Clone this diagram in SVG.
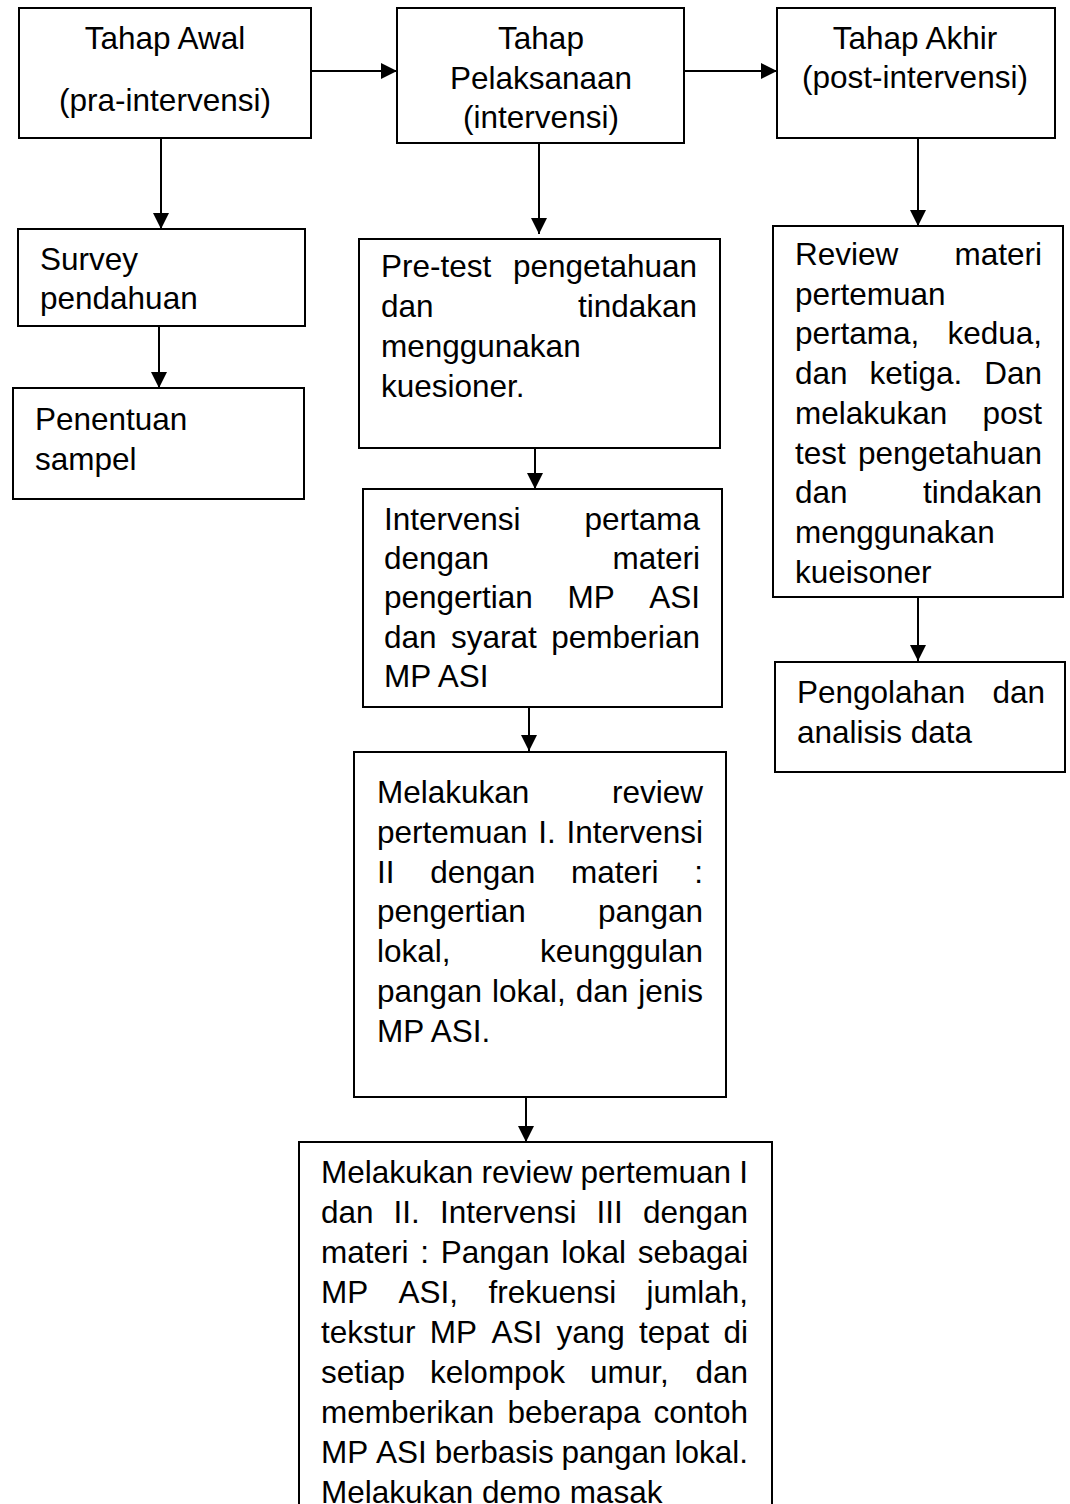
<svg xmlns="http://www.w3.org/2000/svg" width="1070" height="1504" viewBox="0 0 1070 1504">
<style>
.box{fill:#fff;stroke:#000;stroke-width:2}
.t{font-family:"Liberation Sans",Arial,sans-serif;font-size:31.5px;fill:#000}
.c{text-anchor:middle}
.e{text-anchor:end}
.ln{stroke:#000;stroke-width:2;fill:none;marker-end:url(#ah)}
</style>
<defs>
<marker id="ah" markerUnits="userSpaceOnUse" markerWidth="18" markerHeight="18" refX="16" refY="8" orient="auto">
<path d="M0,0 L16,8 L0,16 Z" fill="#000"/>
</marker>
</defs>
<rect width="1070" height="1504" fill="#fff"/>
<g id="connectors">
<line class="ln" x1="311" y1="71" x2="397" y2="71"/>
<line class="ln" x1="684" y1="71" x2="777" y2="71"/>
<line class="ln" x1="161" y1="138" x2="161" y2="229"/>
<line class="ln" x1="159" y1="326" x2="159" y2="388"/>
<line class="ln" x1="539" y1="143" x2="539" y2="234"/>
<line class="ln" x1="535" y1="448" x2="535" y2="489"/>
<line class="ln" x1="529" y1="707" x2="529" y2="751"/>
<line class="ln" x1="526" y1="1097" x2="526" y2="1142"/>
<line class="ln" x1="918" y1="138" x2="918" y2="226"/>
<line class="ln" x1="918" y1="597" x2="918" y2="661"/>
</g>
<g id="tahap-awal">
<rect class="box" x="19" y="8" width="292" height="130"/>
<text class="t c" x="165" y="49">Tahap Awal</text>
<text class="t c" x="165" y="111">(pra-intervensi)</text>
</g>
<g id="tahap-pelaksanaan">
<rect class="box" x="397" y="8" width="287" height="135"/>
<text class="t c" x="541" y="49">Tahap</text>
<text class="t c" x="541" y="89">Pelaksanaan</text>
<text class="t c" x="541" y="128">(intervensi)</text>
</g>
<g id="tahap-akhir">
<rect class="box" x="777" y="8" width="278" height="130"/>
<text class="t c" x="915" y="49">Tahap Akhir</text>
<text class="t c" x="915" y="88">(post-intervensi)</text>
</g>
<g id="survey">
<rect class="box" x="18" y="229" width="287" height="97"/>
<text class="t" x="40" y="270">Survey</text>
<text class="t" x="40" y="309">pendahuan</text>
</g>
<g id="penentuan">
<rect class="box" x="13" y="388" width="291" height="111"/>
<text class="t" x="35" y="430">Penentuan</text>
<text class="t" x="35" y="470">sampel</text>
</g>
<g id="pretest">
<rect class="box" x="359" y="239" width="361" height="209"/>
<text class="t" x="381" y="277">Pre-test</text><text class="t e" x="697" y="277">pengetahuan</text>
<text class="t" x="381" y="317">dan</text><text class="t e" x="697" y="317">tindakan</text>
<text class="t" x="381" y="357">menggunakan</text>
<text class="t" x="381" y="397">kuesioner.</text>
</g>
<g id="intervensi-1">
<rect class="box" x="363" y="489" width="359" height="218"/>
<text class="t" x="384" y="530">Intervensi</text><text class="t e" x="700" y="530">pertama</text>
<text class="t" x="384" y="569">dengan</text><text class="t e" x="700" y="569">materi</text>
<text class="t" y="608"><tspan x="384">pengertian</tspan><tspan x="567.4">MP</tspan><tspan x="649.2">ASI</tspan></text>
<text class="t" y="648"><tspan x="384">dan</tspan><tspan x="450.9">syarat</tspan><tspan x="551.2">pemberian</tspan></text>
<text class="t" x="384" y="687">MP ASI</text>
</g>
<g id="intervensi-2">
<rect class="box" x="354" y="752" width="372" height="345"/>
<text class="t" x="377" y="803">Melakukan</text><text class="t e" x="703" y="803">review</text>
<text class="t" y="843"><tspan x="377">pertemuan</tspan><tspan x="538.3">I.</tspan><tspan x="566.5">Intervensi</tspan></text>
<text class="t" y="883"><tspan x="377">II</tspan><tspan x="430.2">dengan</tspan><tspan x="571">materi</tspan><tspan x="694.2">:</tspan></text>
<text class="t" x="377" y="922">pengertian</text><text class="t e" x="703" y="922">pangan</text>
<text class="t" x="377" y="962">lokal,</text><text class="t e" x="703" y="962">keunggulan</text>
<text class="t" y="1002"><tspan x="377">pangan</tspan><tspan x="492.1">lokal,</tspan><tspan x="575.7">dan</tspan><tspan x="638.2">jenis</tspan></text>
<text class="t" x="377" y="1042">MP ASI.</text>
</g>
<g id="intervensi-3">
<rect class="box" x="299" y="1142" width="473" height="380"/>
<text class="t" y="1183"><tspan x="321">Melakukan</tspan><tspan x="481.4">review</tspan><tspan x="580.5">pertemuan</tspan><tspan x="739.2">I</tspan></text>
<text class="t" y="1223"><tspan x="321">dan</tspan><tspan x="393.6">II.</tspan><tspan x="440">Intervensi</tspan><tspan x="596.6">III</tspan><tspan x="643">dengan</tspan></text>
<text class="t" y="1263"><tspan x="321">materi</tspan><tspan x="420.3">:</tspan><tspan x="440.8">Pangan</tspan><tspan x="561.2">lokal</tspan><tspan x="637.8">sebagai</tspan></text>
<text class="t" y="1303"><tspan x="321">MP</tspan><tspan x="398.6">ASI,</tspan><tspan x="488.4">frekuensi</tspan><tspan x="646.5">jumlah,</tspan></text>
<text class="t" y="1343"><tspan x="321">tekstur</tspan><tspan x="429.8">MP</tspan><tspan x="491.4">ASI</tspan><tspan x="556.5">yang</tspan><tspan x="639.1">tepat</tspan><tspan x="723.5">di</tspan></text>
<text class="t" y="1383"><tspan x="321">setiap</tspan><tspan x="430.1">kelompok</tspan><tspan x="589.9">umur,</tspan><tspan x="695.4">dan</tspan></text>
<text class="t" y="1423"><tspan x="321">memberikan</tspan><tspan x="507.4">beberapa</tspan><tspan x="653.5">contoh</tspan></text>
<text class="t" y="1463"><tspan x="321">MP</tspan><tspan x="376.1">ASI</tspan><tspan x="434.7">berbasis</tspan><tspan x="561.5">pangan</tspan><tspan x="674.4">lokal.</tspan></text>
<text class="t" x="321" y="1503">Melakukan demo masak</text>
</g>
<g id="review">
<rect class="box" x="773" y="226" width="290" height="371"/>
<text class="t" x="795" y="265">Review</text><text class="t e" x="1042" y="265">materi</text>
<text class="t" x="795" y="305">pertemuan</text>
<text class="t" x="795" y="344">pertama,</text><text class="t e" x="1042" y="344">kedua,</text>
<text class="t" y="384"><tspan x="795">dan</tspan><tspan x="869.5">ketiga.</tspan><tspan x="984.2">Dan</tspan></text>
<text class="t" x="795" y="424">melakukan</text><text class="t e" x="1042" y="424">post</text>
<text class="t" x="795" y="464">test</text><text class="t e" x="1042" y="464">pengetahuan</text>
<text class="t" x="795" y="503">dan</text><text class="t e" x="1042" y="503">tindakan</text>
<text class="t" x="795" y="543">menggunakan</text>
<text class="t" x="795" y="583">kueisoner</text>
</g>
<g id="pengolahan">
<rect class="box" x="775" y="662" width="290" height="110"/>
<text class="t" x="797" y="703">Pengolahan</text><text class="t e" x="1045" y="703">dan</text>
<text class="t" x="797" y="743">analisis data</text>
</g>
</svg>
